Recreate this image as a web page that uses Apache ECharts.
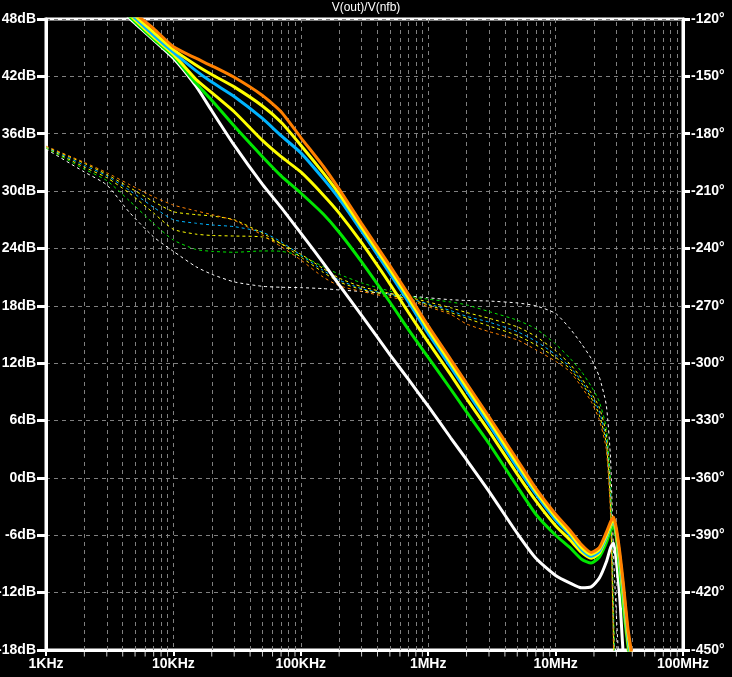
<!DOCTYPE html>
<html>
<head>
<meta charset="utf-8">
<style>
  html, body { margin: 0; padding: 0; background: #000; }
  #bode { width: 732px; height: 677px; }
</style>
<script src="https://cdn.jsdelivr.net/npm/echarts@6/dist/echarts.min.js"></script>
</head>
<body>
<div id="bode"></div>
<script>
// frequency points (Hz) shared by every trace
var freqs = [1e3, 2e3, 3e3, 4.5e3, 7e3, 1e4, 1.5e4, 2e4, 3e4, 5e4, 7e4, 1e5, 1.5e5, 2e5, 3e5, 5e5, 7e5,
  1e6, 1.5e6, 2e6, 3e6, 5e6, 7e6, 1e7, 1.3e7, 1.6e7, 1.9e7, 2.2e7, 2.5e7, 2.7e7, 2.85e7, 3e7, 3.2e7,
  3.4e7, 3.7e7, 4e7, 4.5e7];

// magnitude, dB
var magWhite = [58, 53.8, 50.9, 48.1, 45.8, 43.9, 41.0, 38.4, 34.8, 30.7, 28.3, 25.6, 22.5, 20.2, 17.0, 12.9, 10.3,
  7.5, 4.2, 1.9, -1.4, -5.8, -8.4, -10.2, -11.0, -11.5, -11.4, -10.5, -8.8, -7.3, -6.8, -8.7, -12.8,
  -18.5, -23, -28, -35];
var magGreen = [58.7, 54.0, 51.0, 48.3, 45.9, 44.1, 41.3, 39.5, 36.8, 33.6, 31.6, 29.8, 27.6, 25.7, 22.6, 18.4, 15.5,
  12.6, 9.3, 6.9, 3.6, -0.9, -3.8, -6.0, -7.3, -8.5, -8.9, -8.3, -6.8, -5.5, -5.0, -6.3, -10.0,
  -13.5, -17.7, -21.5, -30];
var magYellow2 = [58.9, 54.2, 51.2, 48.5, 46.1, 44.3, 41.7, 40.3, 38.3, 35.3, 33.6, 32.0, 29.6, 27.7, 24.6, 20.3, 17.3,
  14.2, 10.8, 8.3, 4.9, 0.4, -2.4, -5.0, -6.5, -7.8, -8.4, -7.9, -6.3, -5.1, -4.5, -6.0, -9.2,
  -12.5, -17.2, -20.3, -27.5];
var magBlue = [59.1, 54.4, 51.4, 48.7, 46.3, 44.5, 42.6, 41.4, 39.9, 37.6, 35.8, 34.0, 31.3, 29.2, 25.8, 21.4, 18.4,
  15.1, 11.6, 9.1, 5.6, 1.1, -1.7, -4.4, -6.0, -7.5, -8.2, -7.7, -6.2, -5.0, -4.4, -5.8, -8.8,
  -12.0, -16.8, -19.8, -27];
var magYellow1 = [59.3, 54.6, 51.6, 48.9, 46.6, 44.8, 43.2, 42.2, 40.9, 38.9, 37.2, 34.8, 31.9, 29.7, 26.2, 21.8, 18.8,
  15.5, 12.0, 9.5, 6.0, 1.5, -1.4, -4.1, -5.8, -7.3, -8.0, -7.5, -6.0, -4.9, -4.3, -5.6, -8.4,
  -11.5, -16.3, -19.3, -26];
var magOrange = [59.5, 54.8, 51.8, 49.1, 47.0, 45.1, 43.9, 43.1, 41.9, 40.0, 38.3, 35.6, 32.6, 30.2, 26.6, 22.2, 19.2,
  15.9, 12.4, 9.9, 6.4, 1.9, -1.1, -3.8, -5.5, -7.0, -7.8, -7.3, -5.7, -4.6, -4.1, -5.3, -7.9,
  -11.0, -15.8, -18.8, -25];

// phase, degrees
var phWhite = [-188, -200, -206.8, -221, -234, -241.5, -249.5, -253.5, -257.5, -259.8, -260.3, -260.5, -261, -261.7, -262.5, -263.7, -264.8,
  -265.8, -266.8, -267.2, -267.5, -268.5, -270, -274, -282, -290, -297.5, -307, -322, -350, -400, -432, -465,
  -480, -490, -495, -500];
var phGreen = [-187.5, -198.5, -204.5, -215, -227, -235.6, -240.5, -241.5, -242, -241.3, -241.5, -243.8, -249.5, -253.5, -258, -262.3, -265,
  -266.5, -268, -269.5, -273, -277.5, -282, -290, -297.5, -304.5, -312, -320, -334, -362, -430, -480, -490,
  -495, -500, -500, -500];
var phYellow2 = [-187.2, -197.5, -203, -211, -221.5, -230, -232.5, -233.2, -233.5, -234, -237.5, -243, -250.5, -255.5, -260, -263.5, -265.5,
  -268, -271, -273.5, -276.5, -281, -286, -293.5, -300.5, -308, -315.5, -323, -337, -368, -435, -482, -490,
  -495, -500, -500, -500];
var phBlue = [-187, -196.5, -202, -209.5, -218.5, -225, -226.8, -227.7, -228.6, -231.5, -236.5, -243.5, -251.5, -256.5, -261, -264, -266,
  -269, -272.5, -275.5, -278.5, -283.5, -288.5, -295.5, -302, -309.5, -317, -325, -340, -372, -440, -485, -492,
  -496, -500, -500, -500];
var phYellow1 = [-186.8, -195.5, -201.3, -208, -215.5, -220.8, -222.3, -223, -225, -232, -237.5, -244.5, -252.5, -257.5, -261.5, -264.5, -266.5,
  -269.5, -273.5, -276.5, -280.5, -285.5, -290.5, -297, -303, -310.5, -318, -327, -342, -376, -445, -488, -494,
  -497, -500, -500, -500];
var phOrange = [-186.5, -195, -200.4, -206.5, -213, -217.3, -220.3, -222.3, -225.3, -233, -239, -246, -255, -259.5, -262.5, -265.5, -267.2,
  -270.5, -274.5, -279.5, -283.5, -287.8, -293, -299, -304.5, -312.5, -320, -329.5, -345, -380, -450, -490, -495,
  -498, -500, -500, -500];

var freqTickLabels = ["1KHz", "10KHz", "100KHz", "1MHz", "10MHz", "100MHz"];

var traces = [
  { color: "#ffffff", mag: magWhite, ph: phWhite },
  { color: "#00e600", mag: magGreen, ph: phGreen },
  { color: "#ffff00", mag: magYellow2, ph: phYellow2 },
  { color: "#00b4ff", mag: magBlue, ph: phBlue },
  { color: "#ffff00", mag: magYellow1, ph: phYellow1 },
  { color: "#ff8000", mag: magOrange, ph: phOrange },
];

// 2..9 of every decade, for the dashed grid and the small bottom ticks
var minorFreqs = [];
for (var d = 1e3; d < 1e8; d *= 10) {
  for (var k = 2; k <= 9; k++) minorFreqs.push(d * k);
}

var font = "Liberation Sans";
var gridGray = "#808080";

function pairs(vals) {
  return freqs.map(function (f, i) { return [f, vals[i]]; });
}

var myChart = echarts.init(document.getElementById("bode"));

var series = [];
traces.forEach(function (t) {
  series.push({
    type: "line",
    yAxisIndex: 1,
    data: pairs(t.ph),
    symbol: "none",
    smooth: 0.2,
    lineStyle: { color: t.color, width: 1, type: [3, 3] },
    z: 3,
  });
});
traces.forEach(function (t, i) {
  var s = {
    type: "line",
    yAxisIndex: 0,
    data: pairs(t.mag),
    symbol: "none",
    smooth: 0.2,
    lineStyle: { color: t.color, width: 3 },
    z: 4,
  };
  if (i == 0) {
    s.markLine = {
      silent: true,
      symbol: ["none", "none"],
      label: { show: false },
      z: 1,
      lineStyle: { color: gridGray, width: 1, type: [4, 4] },
      data: minorFreqs.map(function (f) { return { xAxis: f }; }),
    };
  }
  series.push(s);
});
series.push({
  type: "scatter",
  yAxisIndex: 0,
  data: minorFreqs.map(function (f) { return [f, -18]; }),
  symbol: "rect",
  symbolSize: [1, 5],
  symbolOffset: [0, 4],
  itemStyle: { color: "#ffffff" },
  clip: false,
  silent: true,
  z: 6,
});

var labelStyle = { color: "#fff", fontFamily: font, fontSize: 14, fontWeight: "bold" };

var option = {
  backgroundColor: "#000",
  animation: false,
  title: {
    text: "V(out)/V(nfb)",
    left: "center",
    top: 2,
    padding: 0,
    textStyle: { color: "#fff", fontSize: 12, fontWeight: "normal", fontFamily: font },
  },
  grid: {
    left: 46, right: 49, top: 19, bottom: 27,
    outerBoundsMode: "none",
    containLabel: false,
    show: true, borderColor: "#fff", borderWidth: 3, backgroundColor: "#000",
  },
  xAxis: {
    type: "log",
    logBase: 10,
    min: 1e3,
    max: 1e8,
    axisLine: { show: true, onZero: false, lineStyle: { color: "#fff", width: 3 } },
    axisTick: { show: true, length: 6, lineStyle: { color: "#fff", width: 2 } },
    axisLabel: Object.assign({}, labelStyle, {
      margin: 7,
      formatter: function (v) { return freqTickLabels[Math.round(Math.log10(v)) - 3]; },
    }),
    splitLine: { show: true, lineStyle: { color: gridGray, type: [4, 4] } },
  },
  yAxis: [
    {
      type: "value",
      position: "left",
      min: -18, max: 48, interval: 6,
      axisLine: { show: true, onZero: false, lineStyle: { color: "#fff", width: 3 } },
      axisTick: { show: true, length: 9, lineStyle: { color: "#fff", width: 3 } },
      axisLabel: Object.assign({}, labelStyle, {
        margin: 10,
        formatter: function (v) { return v + "dB"; },
      }),
      splitLine: { show: true, lineStyle: { color: gridGray, type: [4, 4] } },
    },
    {
      type: "value",
      position: "right",
      min: -450, max: -120, interval: 30,
      axisLine: { show: true, onZero: false, lineStyle: { color: "#fff", width: 3 } },
      axisTick: { show: true, length: 7, lineStyle: { color: "#fff", width: 3 } },
      axisLabel: Object.assign({}, labelStyle, {
        margin: 8,
        formatter: function (v) { return v + "°"; },
      }),
      splitLine: { show: false },
    },
  ],
  series: series,
};
option && myChart.setOption(option);
</script>
</body>
</html>
